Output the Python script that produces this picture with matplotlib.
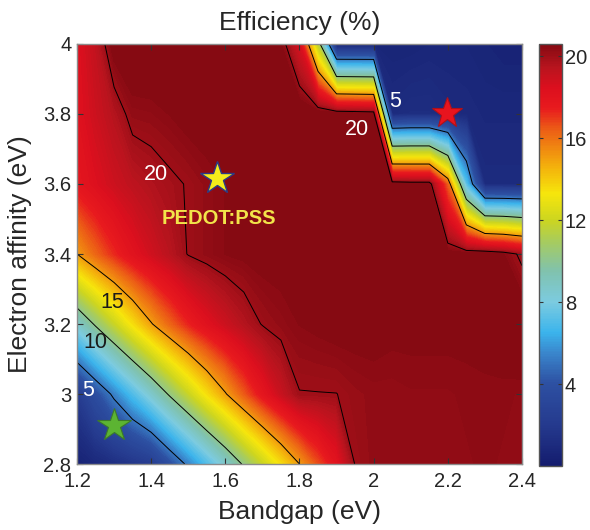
import numpy as np
import matplotlib
matplotlib.use("Agg")
import matplotlib.pyplot as plt
from matplotlib.colors import LinearSegmentedColormap, Normalize
from matplotlib.cm import ScalarMappable

plt.rcParams["font.family"] = ["Liberation Sans", "DejaVu Sans"]

# ── data: efficiency (%) on a bandgap × electron-affinity grid ──────────
bandgap = [1.20, 1.25, 1.30, 1.35, 1.40, 1.45, 1.50, 1.55, 1.60, 1.65, 1.70,
           1.75, 1.80, 1.85, 1.90, 1.95, 2.00, 2.05, 2.10, 2.15, 2.20, 2.25,
           2.30, 2.35, 2.40]
affinity = [2.8, 3.0, 3.2, 3.4, 3.6, 3.8, 4.0]

eff_28 = [0.4, 0.8, 1.2, 1.65, 2.1, 3.7, 5.3, 6.9, 8.5, 10.2, 11.8, 13.4, 15.0,
          16.6, 18.0, 20.05, 20.3, 20.3, 20.3, 20.3, 20.35, 20.35, 20.4, 20.35, 20.3]
eff_30 = [2.1, 3.7, 5.3, 6.9, 8.5, 10.2, 11.8, 13.4, 14.9, 16.4, 17.8, 19.0, 19.97,
          19.98, 19.99, 20.2, 20.3, 20.3, 20.35, 20.35, 20.35, 20.4, 20.4, 20.4, 20.35]
eff_32 = [8.5, 10.2, 11.8, 13.4, 14.9, 16.2, 17.3, 18.2, 18.9, 19.5, 20.05, 20.3, 20.5,
          20.6, 20.7, 20.7, 20.7, 20.6, 20.6, 20.6, 20.6, 20.6, 20.7, 20.8, 21.0]
eff_34 = [15.0, 16.2, 17.2, 18.1, 18.8, 19.4, 20.05, 20.3, 20.5, 20.6, 20.7, 20.7, 20.8,
          20.8, 20.8, 20.8, 20.8, 20.7, 20.7, 20.7, 20.7, 20.7, 20.8, 20.5, 19.8]
eff_36 = [17.8, 18.4, 18.9, 19.3, 19.6, 19.85, 20.05, 20.3, 20.5, 20.7, 20.8, 20.9, 20.9,
          20.9, 20.9, 20.9, 20.8, 20.6, 20.5, 20.5, 16.2, 7.0, 1.0, 1.0, 1.0]
eff_38 = [18.2, 18.9, 19.5, 20.3, 20.35, 20.5, 20.7, 20.8, 20.9, 21.0, 21.0, 21.0, 21.0,
          20.9, 20.8, 20.7, 20.6, 1.0, 1.2, 1.2, 1.0, 0.9, 0.8, 0.8, 0.8]
eff_40 = [18.3, 19.2, 20.8, 21.0, 21.0, 21.0, 21.0, 21.0, 21.0, 21.0, 20.9, 20.5, 18.5,
          11.2, 0.6, 0.6, 0.6, 0.6, 0.6, 0.7, 0.7, 0.7, 0.6, 0.5, 0.5]

contour_levels = [5, 10, 15, 20]
cbar_ticks = [4, 8, 12, 16, 20]

# marked materials (bandgap, affinity)
star_pedot = (1.577, 3.616)
star_red = (2.197, 3.804)
star_green = (1.300, 2.911)

# ── colormap (jet-like, as in the figure) ───────────────────────────────
vmin, vmax = 0.0, 20.6
cmap_pts = [
    (0.0, "#141c6e"), (2.0, "#253a8e"), (4.0, "#2d50a2"), (5.5, "#3a86cc"),
    (6.5, "#3bb4ec"), (8.0, "#7ccbe0"), (9.5, "#80c2ae"), (11.0, "#a8cc5c"),
    (12.0, "#ccd520"), (13.3, "#f6e60c"), (14.5, "#f4b60c"), (15.5, "#f08a10"),
    (16.5, "#ec5a16"), (17.5, "#e81a1e"), (18.5, "#dc0f1e"), (19.5, "#b8141e"),
    (20.6, "#860a12"),
]
cmap = LinearSegmentedColormap.from_list(
    "eff", [((v - vmin) / (vmax - vmin), c) for v, c in cmap_pts])
norm = Normalize(vmin=vmin, vmax=vmax)

X, Y = np.meshgrid(bandgap, affinity)
Z = np.array([eff_28, eff_30, eff_32, eff_34, eff_36, eff_38, eff_40])

fig = plt.figure(figsize=(5.9, 5.3), dpi=100)
ax = fig.add_axes([0.1305, 0.1245, 0.7542, 0.7925])
cax = fig.add_axes([0.9136, 0.1208, 0.039, 0.796])

cf = ax.contourf(X, Y, Z, levels=np.linspace(0, 21.2, 180), cmap=cmap, norm=norm)
cf.set_edgecolor("face")
cf.set_linewidth(0.3)
ax.contour(X, Y, Z, levels=contour_levels, colors="black", linewidths=0.7)

# ── stars and labels ────────────────────────────────────────────────────
ax.plot(*star_pedot, marker="*", ms=25, mfc="#f5ec1a", mec="#2b3a86", mew=1.0, zorder=5)
ax.plot(*star_red, marker="*", ms=23, mfc="#e8141e", mec="#b01018", mew=0.8, zorder=5)
ax.plot(*star_green, marker="*", ms=25, mfc="#5cb432", mec="#3c7a2a", mew=0.8, zorder=5)

ax.text(1.583, 3.502, "PEDOT:PSS", color="#f2e44a", fontsize=14.5,
        fontweight="bold", ha="center", va="center")
lbl = dict(fontsize=15.5, ha="center", va="center")
ax.text(1.412, 3.628, "20", color="white", **lbl)
ax.text(1.954, 3.757, "20", color="white", **lbl)
ax.text(2.058, 3.836, "5", color="white", **lbl)
ax.text(1.294, 3.262, "15", color="#1a1a1a", **lbl)
ax.text(1.249, 3.148, "10", color="#1a1a1a", **lbl)
ax.text(1.231, 3.011, "5", color="white", **lbl)

# ── axes styling ────────────────────────────────────────────────────────
ax.set_xlim(1.2, 2.4)
ax.set_ylim(2.8, 4.0)
ax.set_xticks([1.2, 1.4, 1.6, 1.8, 2.0, 2.2, 2.4])
ax.set_xticklabels(["1.2", "1.4", "1.6", "1.8", "2", "2.2", "2.4"])
ax.set_yticks([2.8, 3.0, 3.2, 3.4, 3.6, 3.8, 4.0])
ax.set_yticklabels(["2.8", "3", "3.2", "3.4", "3.6", "3.8", "4"])
ax.tick_params(direction="in", top=True, right=True, length=4, width=0.8,
               color="#333333", labelsize=14.5, labelcolor="#262626")
ax.tick_params(axis="x", pad=6)
ax.tick_params(axis="y", pad=4)
for sp in ax.spines.values():
    sp.set_color("#8c8c8c")
    sp.set_linewidth(1.0)

ax.set_xlabel("Bandgap (eV)", fontsize=19, color="#262626", labelpad=6)
ax.set_ylabel("Electron affinity (eV)", fontsize=19, color="#262626", labelpad=8)
ax.set_title("Efficiency (%)", fontsize=19, color="#262626", pad=10)

cb = fig.colorbar(ScalarMappable(norm=norm, cmap=cmap), cax=cax, ticks=cbar_ticks)
cb.ax.tick_params(direction="in", left=True, right=True, length=3, width=0.8,
                  color="#333333", labelsize=14.5, labelcolor="#262626", pad=2)
cb.outline.set_edgecolor("#555555")
cb.outline.set_linewidth(1.0)

fig.savefig("out.png", dpi=100)
